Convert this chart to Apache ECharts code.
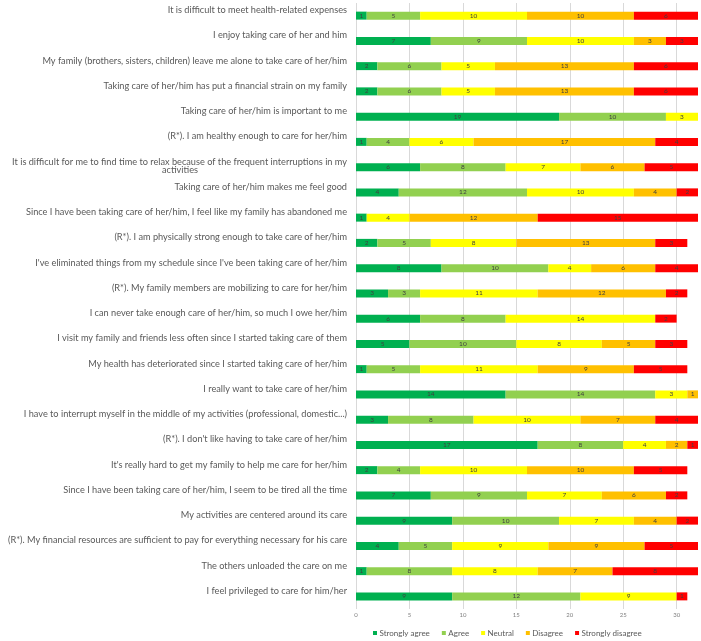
<!DOCTYPE html>
<html>
<head>
<meta charset="utf-8">
<script src="https://cdn.jsdelivr.net/npm/echarts@6/dist/echarts.min.js"></script>
<style>
html, body { margin: 0; padding: 0; background: #fff; }
#main { width: 701px; height: 641px; }
</style>
</head>
<body>
<div id="main"></div>
<script>
// statements, top to bottom (the 7th one wraps onto a second line in the original)
var statements = [
	'It is difficult to meet health-related expenses',
	'I enjoy taking care of her and him',
	'My family (brothers, sisters, children) leave me alone to take care of her/him',
	'Taking care of her/him has put a financial strain on my family',
	'Taking care of her/him is important to me',
	'(R*). I am healthy enough to care for her/him',
	'It is difficult for me to find time to relax because of the frequent interruptions in my activities',
	'Taking care of her/him makes me feel good',
	'Since I have been taking care of her/him, I feel like my family has abandoned me',
	'(R*). I am physically strong enough to take care of her/him',
	"I've eliminated things from my schedule since I've been taking care of her/him",
	'(R*). My family members are mobilizing to care for her/him',
	'I can never take enough care of her/him, so much I owe her/him',
	'I visit my family and friends less often since I started taking care of them',
	'My health has deteriorated since I started taking care of her/him',
	'I really want to take care of her/him',
	'I have to interrupt myself in the middle of my activities (professional, domestic...)',
	"(R*). I don't like having to take care of her/him",
	"It's really hard to get my family to help me care for her/him",
	'Since I have been taking care of her/him, I seem to be tired all the time',
	'My activities are centered around its care',
	'(R*). My financial resources are sufficient to pay for everything necessary for his care',
	'The others unloaded the care on me',
	'I feel privileged to care for him/her'
];

var stronglyAgree    = [1, 7, 2, 2, 19, 1, 6, 4, 1, 2, 8, 3, 6, 5, 1, 14, 3, 17, 2, 7, 9, 4, 1, 9];
var agree            = [5, 9, 6, 6, 10, 4, 8, 12, 0, 5, 10, 3, 8, 10, 5, 14, 8, 8, 4, 9, 10, 5, 8, 12];
var neutral          = [10, 10, 5, 5, 3, 6, 7, 10, 4, 8, 4, 11, 14, 8, 11, 3, 10, 4, 10, 7, 7, 9, 8, 9];
var disagree         = [10, 3, 13, 13, 0, 17, 6, 4, 12, 13, 6, 12, 0, 5, 9, 1, 7, 2, 10, 6, 4, 9, 7, 0];
var stronglyDisagree = [6, 3, 6, 6, 0, 4, 5, 2, 15, 3, 4, 2, 2, 3, 5, 0, 4, 1, 5, 2, 2, 5, 8, 1];

var legendNames = ['Strongly agree', 'Agree', 'Neutral', 'Disagree', 'Strongly disagree'];
var colors = ['#00B050', '#92D050', '#FFFF00', '#FFC000', '#FF0000'];
var seriesData = [stronglyAgree, agree, neutral, disagree, stronglyDisagree];

var labelFont = '9.2px Lato';
var measureCtx = document.createElement('canvas').getContext('2d');

function textWidth(s) {
	measureCtx.font = labelFont;
	return measureCtx.measureText(s).width;
}

// second line of the wrapped label is centred under the first
var wrapAt = ' activities';
var wrapIdx = 6;
var line1 = statements[wrapIdx].slice(0, statements[wrapIdx].length - wrapAt.length);
var line2 = wrapAt.trim();
var wrapPad = Math.max(1, Math.round((textWidth(line1) - textWidth(line2)) / 2));

var myChart = echarts.init(document.getElementById('main'));

var series = seriesData.map(function(d, i) {
	return {
		name: legendNames[i],
		type: 'bar',
		stack: 'total',
		barWidth: 8,
		data: d,
		itemStyle: { color: colors[i] },
		label: {
			show: true,
			position: 'inside',
			fontSize: 6.5,
			color: '#404040',
			fontFamily: 'Lato',
			formatter: function(p) { return p.value ? p.value : ''; }
		}
	};
});

var option = {
	animation: false,
	color: colors,
	grid: { left: 356, right: 3, top: 3, bottom: 32, containLabel: false },
	legend: {
		data: legendNames,
		top: 629,
		left: 373,
		padding: 0,
		icon: 'rect',
		itemWidth: 4,
		itemHeight: 4,
		itemGap: 12,
		textStyle: { fontSize: 8, color: '#595959', fontFamily: 'Lato', padding: [0, 0, 0, -2.5] }
	},
	xAxis: {
		type: 'value',
		min: 0,
		max: 32,
		interval: 5,
		axisLine: { show: false },
		axisTick: { show: false },
		axisLabel: { fontSize: 6, color: '#7f7f7f', showMaxLabel: false, margin: 3, fontFamily: 'Lato' },
		splitLine: { showMaxLine: false, lineStyle: { color: '#d9d9d9', width: 1 } }
	},
	yAxis: {
		type: 'category',
		inverse: true,
		data: statements,
		axisLine: { show: false },
		axisTick: { show: false },
		axisLabel: {
			fontSize: 9.2,
			color: '#595959',
			fontFamily: 'Lato',
			margin: 9,
			align: 'right',
			lineHeight: 11,
			interval: 0,
			formatter: function(v, idx) {
				if (idx === wrapIdx) {
					return '{c|' + line1 + '}\n{c|' + line2 + '}{p|' + '\u2007'.repeat(40) + '}\n{e|}';
				}
				// empty second line lifts the text above the bar like the original
				return v + '\n';
			},
			rich: {
				c: { fontSize: 9.2, fontFamily: 'Lato', color: '#595959', lineHeight: 8 },
				p: { fontSize: 9.2, fontFamily: 'Lato', lineHeight: 8, width: wrapPad, color: 'rgba(0,0,0,0)', overflow: 'truncate', ellipsis: '' },
				e: { lineHeight: 3 }
			}
		}
	},
	series: series
};

myChart.setOption(option);
</script>
</body>
</html>
